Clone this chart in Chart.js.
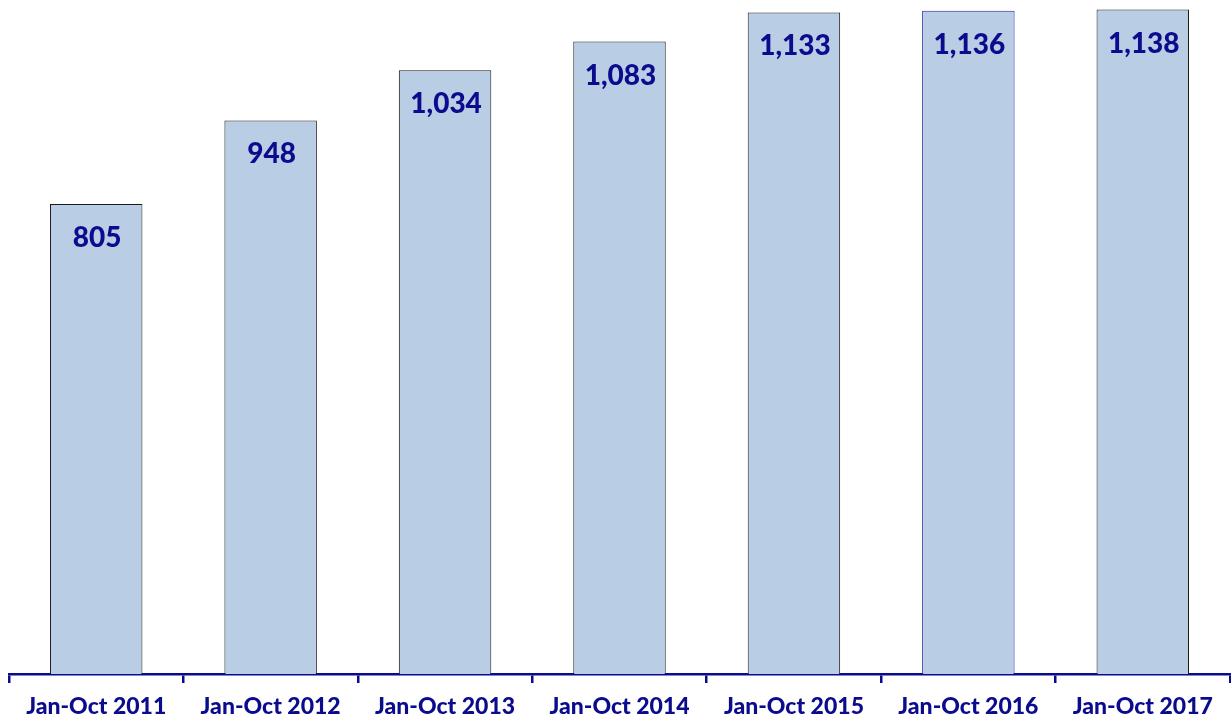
<!DOCTYPE html>
<html><head><meta charset="utf-8">
<script src="https://cdn.jsdelivr.net/npm/chart.js@4"></script>
<style>html,body{margin:0;padding:0;background:#fff}#w{width:1231px;height:720px}</style>
</head><body><div id="w"><canvas id="c"></canvas></div>
<script>
const categories = ['Jan-Oct 2011','Jan-Oct 2012','Jan-Oct 2013','Jan-Oct 2014','Jan-Oct 2015','Jan-Oct 2016','Jan-Oct 2017'];
const values = [805, 948, 1034, 1083, 1133, 1136, 1138];
const borderColors = ['#1a1a1a','#1a1a1a','#1a1a1a','#1a1a1a','#1a1a1a','#2222AA','#1a1a1a'];
const navy = '#0B0B8E';
const labelPlugin = {
  id: 'vlabels',
  afterDatasetsDraw(chart) {
    const ctx = chart.ctx;
    const meta = chart.getDatasetMeta(0);
    ctx.save();
    ctx.fillStyle = navy;
    ctx.font = '900 28px Lato, "Open Sans", sans-serif';
    ctx.textAlign = 'center';
    ctx.textBaseline = 'middle';
    meta.data.forEach((bar, i) => {
      ctx.fillText(values[i].toLocaleString('en-US'), bar.x + 1, bar.y + 34);
    });
    ctx.restore();
  }
};
new Chart(document.getElementById('c'), {
  type: 'bar',
  data: { labels: categories, datasets: [{ data: values, backgroundColor: '#B9CDE5', borderColor: borderColors, borderWidth: 1, barPercentage: 0.53, categoryPercentage: 1 }] },
  options: {
    responsive: true, maintainAspectRatio: false, animation: false,
    layout: { padding: { left: 9, right: 1, top: 2.5, bottom: 0 } },
    plugins: { legend: { display: false }, tooltip: { enabled: false } },
    scales: {
      y: { display: false, min: 0, max: 1150 },
      x: {
        afterFit(scale) { scale.height = 46; },
        border: { color: navy, width: 2.5 },
        grid: { display: true, drawOnChartArea: false, drawTicks: true, tickLength: 9, color: navy, lineWidth: 2.5, offset: true },
        ticks: { color: navy, font: { family: 'Lato, "Open Sans", sans-serif', size: 23, weight: '900' }, padding: 10, maxRotation: 0, autoSkip: false }
      }
    }
  },
  plugins: [labelPlugin]
});
</script></body></html>
